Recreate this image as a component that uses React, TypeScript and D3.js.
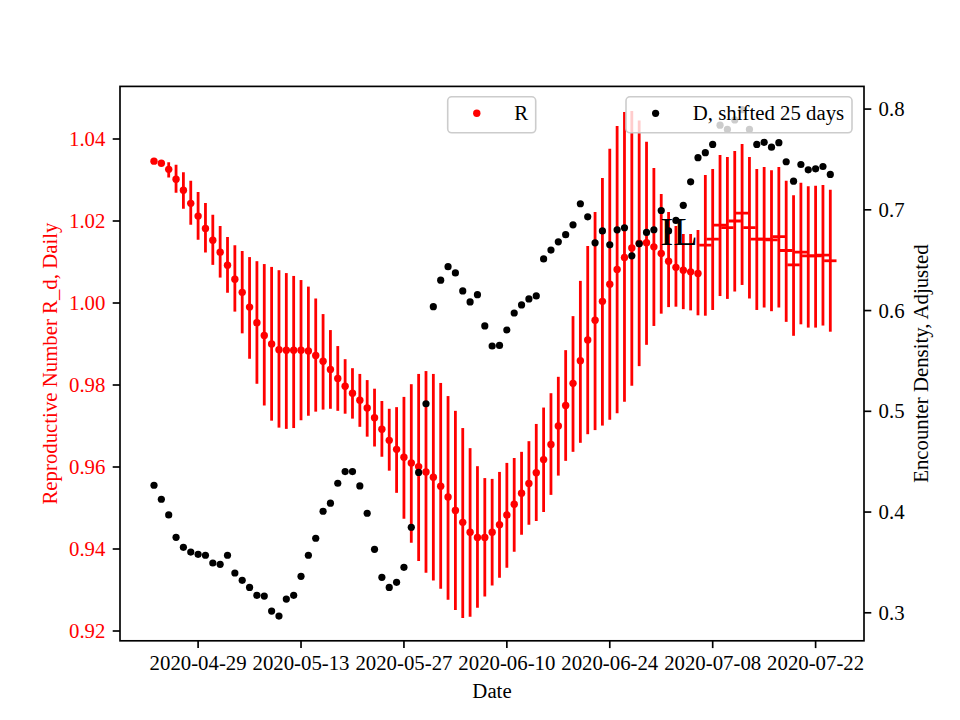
import React from "react";
import * as d3 from "d3";

// ---------- data ----------
const START_DATE = "2020-04-23";
// Reproductive number R_d (daily) central estimates
const R_MID = [
  1.0346, 1.0341, 1.0326, 1.0302, 1.0275, 1.0243, 1.0212, 1.0182, 1.0153, 1.0124,
  1.0092, 1.0058, 1.0026, 0.999, 0.9952, 0.9921, 0.99, 0.9886, 0.9885, 0.9885,
  0.9885, 0.9883, 0.9872, 0.9858, 0.9838, 0.9816, 0.9797, 0.978, 0.9763, 0.9744,
  0.972, 0.9692, 0.9665, 0.9643, 0.9624, 0.961, 0.9601, 0.9588, 0.9575, 0.9553,
  0.9527, 0.9494, 0.9465, 0.9441, 0.9428, 0.9428, 0.9441, 0.9459, 0.9483, 0.9509,
  0.9536, 0.956, 0.9586, 0.9618, 0.9655, 0.97, 0.975, 0.9804, 0.9859, 0.991,
  0.9958, 1.0004, 1.0046, 1.0082, 1.0111, 1.0134, 1.0146, 1.0147, 1.0137, 1.0121,
  1.0102, 1.0087, 1.008, 1.0076, 1.0072, 1.0141, 1.0156, 1.019, 1.0184, 1.02,
  1.0219, 1.0184, 1.0156, 1.0156, 1.0154, 1.0162, 1.0128, 1.0093, 1.0124, 1.0115,
  1.0115, 1.0117, 1.0103,
];
const R_LO = [
  1.0345, 1.0338, 1.0306, 1.0269, 1.023, 1.0191, 1.0154, 1.0123, 1.0093, 1.0062,
  1.0025, 0.9979, 0.9926, 0.9864, 0.9803, 0.975, 0.9713, 0.9696, 0.9693, 0.9695,
  0.9714, 0.9725, 0.9735, 0.974, 0.9742, 0.9737, 0.973, 0.9718, 0.9698, 0.9674,
  0.965, 0.9625, 0.9591, 0.9537, 0.9474, 0.9415, 0.9371, 0.9342, 0.9323, 0.9303,
  0.9276, 0.9251, 0.9232, 0.9235, 0.9257, 0.9284, 0.9311, 0.933, 0.9354, 0.9393,
  0.9435, 0.9459, 0.9468, 0.949, 0.9532, 0.9579, 0.9615, 0.9637, 0.9659, 0.968,
  0.969, 0.9701, 0.9715, 0.9731, 0.9759, 0.9798, 0.9846, 0.9898, 0.9944, 0.9974,
  0.999, 0.9991, 0.9985, 0.9982, 0.997, 0.9969, 0.9983, 1.0017, 1.001, 1.0028,
  1.0044, 1.0011, 0.9983, 0.9989, 0.998, 0.9989, 0.9954, 0.992, 0.9948, 0.994,
  0.994, 0.9945, 0.993,
];
const R_HI = [
  1.0347, 1.0344, 1.0343, 1.0337, 1.0319, 1.0298, 1.0271, 1.0244, 1.0215, 1.0188,
  1.0161, 1.0141, 1.0127, 1.0112, 1.0102, 1.0095, 1.0088, 1.008, 1.0073, 1.0066,
  1.0056, 1.004, 1.0011, 0.9973, 0.9934, 0.9895, 0.9863, 0.9841, 0.9827, 0.9812,
  0.9791, 0.9761, 0.9742, 0.9746, 0.9771, 0.9802, 0.9827, 0.9834, 0.9827, 0.9805,
  0.9773, 0.9737, 0.9695, 0.9646, 0.9602, 0.9573, 0.9571, 0.9588, 0.961, 0.9622,
  0.9637, 0.9663, 0.9705, 0.9745, 0.978, 0.982, 0.9885, 0.9968, 1.0054, 1.0139,
  1.0222, 1.0305, 1.0376, 1.0432, 1.0466, 1.0468, 1.0445, 1.0393, 1.0329, 1.0266,
  1.0222, 1.0188, 1.0168, 1.0168, 1.0178, 1.0312, 1.0327, 1.0361, 1.0356, 1.0371,
  1.0388, 1.0356, 1.0327, 1.0332, 1.0324, 1.0332, 1.0298, 1.0263, 1.0293, 1.0285,
  1.0286, 1.0288, 1.0276,
];
// number of leading R points drawn as dots (the rest as "_" markers)
const R_DOT_COUNT = 75;
// Encounter density D, shifted 25 days
const D_VAL = [
  0.4266, 0.4127, 0.3971, 0.3749, 0.365, 0.3603, 0.358, 0.3571, 0.3494, 0.3481,
  0.3571, 0.3395, 0.3322, 0.3252, 0.3173, 0.3166, 0.3017, 0.2967, 0.3136, 0.3173,
  0.3362, 0.3571, 0.374, 0.4008, 0.4088, 0.4286, 0.4402, 0.4402, 0.4259, 0.3988,
  0.363, 0.3352, 0.3252, 0.3302, 0.3451, 0.3849, 0.4393, 0.5075, 0.6039, 0.6302,
  0.6436, 0.6374, 0.6195, 0.6086, 0.6158, 0.5847, 0.5648, 0.5654, 0.5807, 0.5976,
  0.6056, 0.6115, 0.6145, 0.6513, 0.66, 0.6682, 0.6753, 0.6851, 0.706, 0.693,
  0.6672, 0.679, 0.6652, 0.6801, 0.6822, 0.6543, 0.6662, 0.6776, 0.6802, 0.6993,
  0.679, 0.6895, 0.7045, 0.7278, 0.7518, 0.7567, 0.7649, 0.784, 0.7798, 0.7892,
  0.7994, 0.7798, 0.7649, 0.767, 0.7622, 0.7666, 0.7477, 0.7284, 0.745, 0.7397,
  0.7407, 0.743, 0.7351,
];
const X_TICKS = ["2020-04-29", "2020-05-13", "2020-05-27", "2020-06-10", "2020-06-24", "2020-07-08", "2020-07-22"];
const LEFT_TICKS = [0.92, 0.94, 0.96, 0.98, 1.0, 1.02, 1.04];
const RIGHT_TICKS = [0.3, 0.4, 0.5, 0.6, 0.7, 0.8];

// ---------- layout ----------
const W = 960, H = 720;
const L = 120, R = 864, T = 86.4, B = 640.8;
const FONT = "'Liberation Serif', 'Times New Roman', Times, serif";
const FS = 20.8;
const TICK = 7.3;
const RED = "#ff0000";

const parse = d3.utcParse("%Y-%m-%d");
const start = parse(START_DATE) as Date;
const dates = R_MID.map((_, i) => d3.utcDay.offset(start, i));
const pad = 0.05 * (dates.length - 1);

export default function App() {
  const x = d3
    .scaleUtc()
    .domain([d3.utcHour.offset(dates[0], -pad * 24), d3.utcHour.offset(dates[dates.length - 1], pad * 24)])
    .range([L, R]);
  const yL = d3.scaleLinear().domain([0.91761, 1.05283]).range([B, T]);
  const yR = d3.scaleLinear().domain([0.2722, 0.8225]).range([B, T]);

  const legR = { x: 447.7, y: 96.8, w: 88, h: 36 };
  const legD = { x: 626, y: 96.8, w: 226, h: 36 };

  return (
    <svg width={W} height={H} style={{ position: "absolute", left: 0, top: 0, background: "#fff" }} fontFamily={FONT}>
      <rect x={0} y={0} width={W} height={H} fill="#fff" />
      <defs>
        <clipPath id="plot">
          <rect x={L} y={T} width={R - L} height={B - T} />
        </clipPath>
      </defs>

      {/* R series (left axis) */}
      <g clipPath="url(#plot)">
        {dates.map((d, i) => (
          <line key={"eb" + i} x1={x(d)} x2={x(d)} y1={yL(R_LO[i])} y2={yL(R_HI[i])} stroke={RED} strokeWidth={2.8} />
        ))}
        {dates.map((d, i) =>
          i < R_DOT_COUNT ? (
            <circle key={"rd" + i} cx={x(d)} cy={yL(R_MID[i])} r={3.7} fill={RED} />
          ) : (
            <line key={"rh" + i} x1={x(d) - 6.2} x2={x(d) + 6.2} y1={yL(R_MID[i])} y2={yL(R_MID[i])} stroke={RED} strokeWidth={2.8} />
          )
        )}
      </g>

      {/* R legend */}
      <rect x={legR.x} y={legR.y} width={legR.w} height={legR.h} rx={4} fill="#fff" fillOpacity={0.8} stroke="#cccccc" strokeWidth={1.6} />
      <circle cx={legR.x + 29.1} cy={legR.y + 16.5} r={3.7} fill={RED} />
      <text x={legR.x + 66.5} y={legR.y + 23.3} fontSize={FS} fill="#000">R</text>

      {/* D series (right axis) */}
      <g clipPath="url(#plot)">
        {dates.map((d, i) => (
          <circle key={"dd" + i} cx={x(d)} cy={yR(D_VAL[i])} r={3.6} fill="#000" />
        ))}
      </g>

      {/* D legend */}
      <rect x={legD.x} y={legD.y} width={legD.w} height={legD.h} rx={4} fill="#fff" fillOpacity={0.8} stroke="#cccccc" strokeWidth={1.6} />
      <circle cx={legD.x + 29.6} cy={legD.y + 16.5} r={3.6} fill="#000" />
      <text x={legD.x + 66.8} y={legD.y + 23.5} fontSize={FS} fill="#000">D, shifted 25 days</text>

      {/* stray label */}
      <text x={660} y={245} fontSize={40} fill="#000">IL</text>

      {/* spines */}
      <rect x={L} y={T} width={R - L} height={B - T} fill="none" stroke="#000" strokeWidth={1.67} />

      {/* x axis */}
      {X_TICKS.map((t) => {
        const xx = x(parse(t) as Date);
        return (
          <g key={t}>
            <line x1={xx} x2={xx} y1={B} y2={B + TICK} stroke="#000" strokeWidth={1.67} />
            <text x={xx} y={670} fontSize={FS} textAnchor="middle" fill="#000">{t}</text>
          </g>
        );
      })}
      <text x={(L + R) / 2} y={698} fontSize={FS} textAnchor="middle" fill="#000">Date</text>

      {/* left axis */}
      {LEFT_TICKS.map((v) => (
        <g key={"l" + v}>
          <line x1={L - TICK} x2={L} y1={yL(v)} y2={yL(v)} stroke="#000" strokeWidth={1.67} />
          <text x={L - TICK - 7.3} y={yL(v)} dy="0.34em" fontSize={FS} textAnchor="end" fill={RED}>{v.toFixed(2)}</text>
        </g>
      ))}
      <text transform={`translate(56.5, ${(T + B) / 2}) rotate(-90)`} fontSize={FS} textAnchor="middle" fill={RED}>
        Reproductive Number R_d, Daily
      </text>

      {/* right axis */}
      {RIGHT_TICKS.map((v) => (
        <g key={"r" + v}>
          <line x1={R} x2={R + TICK} y1={yR(v)} y2={yR(v)} stroke="#000" strokeWidth={1.67} />
          <text x={R + TICK + 7.3} y={yR(v)} dy="0.34em" fontSize={FS} textAnchor="start" fill="#000">{v.toFixed(1)}</text>
        </g>
      ))}
      <text transform={`translate(927.5, ${(T + B) / 2}) rotate(-90)`} fontSize={FS} textAnchor="middle" fill="#000">
        Encounter Density, Adjusted
      </text>
    </svg>
  );
}
